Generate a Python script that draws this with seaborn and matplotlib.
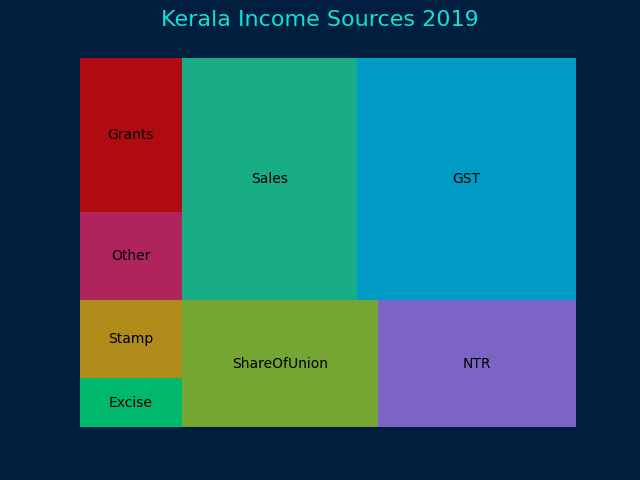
import matplotlib
matplotlib.use("Agg")
import matplotlib.pyplot as plt
import seaborn as sns
import pandas as pd

# Доходы Кералы 2019 (крор рупий, примерно), по возрастанию — как в исходнике
labels = ['Excise', 'Stamp', 'Other', 'Grants', 'ShareOfUnion', 'NTR', 'Sales', 'GST']
values = [2531, 4030, 4546, 7956, 12608, 12737, 21451, 26844]
colors = ['#00b86b', '#b08d1a', '#b0245e', '#b00b13', '#75a532', '#7b64c4', '#18ad85', '#009bc5']

BG = '#001f3f'


# простая реализация squarify
def layout_col(sizes, x, y, dx, dy):
    width = sum(sizes) / dy
    rects = []
    for s in sizes:
        rects.append((x, y, width, s / width))
        y += s / width
    return rects


def layout_row(sizes, x, y, dx, dy):
    height = sum(sizes) / dx
    rects = []
    for s in sizes:
        rects.append((x, y, s / height, height))
        x += s / height
    return rects


def layout(sizes, x, y, dx, dy):
    if dx >= dy:
        return layout_col(sizes, x, y, dx, dy)
    return layout_row(sizes, x, y, dx, dy)


def leftover(sizes, x, y, dx, dy):
    if dx >= dy:
        width = sum(sizes) / dy
        return x + width, y, dx - width, dy
    height = sum(sizes) / dx
    return x, y + height, dx, dy - height


def worst(sizes, x, y, dx, dy):
    return max(max(w / h, h / w) for _, _, w, h in layout(sizes, x, y, dx, dy))


def squarify(sizes, x, y, dx, dy):
    if len(sizes) == 0:
        return []
    if len(sizes) == 1:
        return layout(sizes, x, y, dx, dy)
    i = 1
    while i < len(sizes) and worst(sizes[:i], x, y, dx, dy) >= worst(sizes[:i + 1], x, y, dx, dy):
        i += 1
    current, remaining = sizes[:i], sizes[i:]
    lx, ly, ldx, ldy = leftover(current, x, y, dx, dy)
    return layout(current, x, y, dx, dy) + squarify(remaining, lx, ly, ldx, ldy)


total = sum(values)
norm = [v * 100 * 100 / total for v in values]
rects = squarify(norm, 0, 0, 100, 100)
df = pd.DataFrame(rects, columns=['x', 'y', 'dx', 'dy'])
df['label'] = labels
df['color'] = colors

sns.set_style('white')
plt.rcParams['font.family'] = ['DejaVu Sans']

fig, ax = plt.subplots(figsize=(6.4, 4.8), dpi=100)
fig.patch.set_facecolor(BG)
ax.set_facecolor(BG)

ax.bar(df['x'], df['dy'], width=df['dx'], bottom=df['y'], color=df['color'], align='edge', linewidth=0)
for _, r in df.iterrows():
    ax.text(r['x'] + r['dx'] / 2, r['y'] + r['dy'] / 2, r['label'],
            ha='center', va='center', fontsize=10, color='black')

ax.set_xlim(0, 100)
ax.set_ylim(0, 100)
ax.axis('off')
fig.suptitle('Kerala Income Sources 2019', fontsize=16, color='#10e0d8')

plt.savefig('out.png', facecolor=BG)
